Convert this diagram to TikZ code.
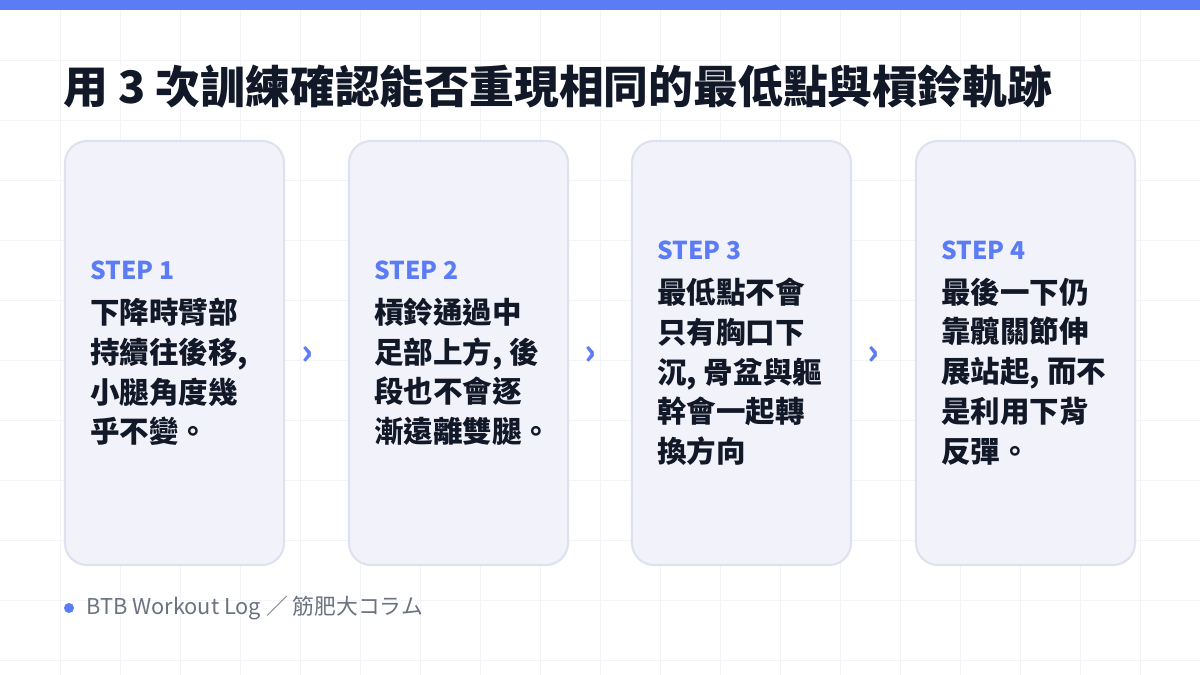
\documentclass[tikz,border=0pt]{standalone}
\usepackage{fontspec}
\setmainfont{Noto Sans CJK TC}
\newfontfamily\cjkbold{Noto Sans CJK TC Black}
\usetikzlibrary{positioning}
\definecolor{accent}{HTML}{5B7CF5}
\definecolor{cardfill}{HTML}{F2F3FA}
\definecolor{cardline}{HTML}{DDE2EE}
\definecolor{gridline}{HTML}{F3F4F7}
\definecolor{inkdark}{HTML}{111827}
\definecolor{inkgray}{HTML}{6B7280}
\tikzset{
  card/.style={draw=cardline,line width=1.2pt,fill=cardfill,rounded corners=0.44cm},
  steplabel/.style={font=\cjkbold\fontsize{14}{16}\selectfont,text=accent,anchor=west,inner sep=0pt},
  stepbody/.style={font=\cjkbold\fontsize{16.8}{22.7}\selectfont,text=inkdark,align=left,anchor=north west,inner sep=0pt},
  chevron/.style={font=\cjkbold\fontsize{20}{22}\selectfont,text=accent,inner sep=0pt}
}
\begin{document}
\begin{tikzpicture}[x=0.02cm,y=-0.02cm]
\useasboundingbox (0,0) rectangle (1200,675);
\fill[white] (0,0) rectangle (1200,675);
% grid
\foreach \gx in {60,120,...,1140} \draw[gridline,line width=0.4pt] (\gx,0) -- (\gx,675);
\foreach \gy in {60,120,...,660} \draw[gridline,line width=0.4pt] (0,\gy) -- (1200,\gy);
\fill[accent] (0,0) rectangle (1200,10);
% title
\node[anchor=west,inner sep=0pt,font=\cjkbold\fontsize{25.5}{28}\selectfont,text=inkdark] (title) at (63,87) {用 3 次訓練確認能否重現相同的最低點與槓鈴軌跡};
% cards
\foreach \cx/\sy/\num/\body in {
  65/270/1/{下降時臂部\\持續往後移,\\小腿角度幾\\乎不變。},
  349/270/2/{槓鈴通過中\\足部上方, 後\\段也不會逐\\漸遠離雙腿。},
  632/250/3/{最低點不會\\只有胸口下\\沉, 骨盆與軀\\幹會一起轉\\換方向},
  916/250/4/{最後一下仍\\靠髖關節伸\\展站起, 而不\\是利用下背\\反彈。}}{
  \draw[card] (\cx,141) rectangle ++(219,424);
  \node[steplabel] (step\num) at (\cx+25,\sy) {STEP \num};
  \node[stepbody,below=10pt of step\num.south west,anchor=north west] (body\num) {\body};
}
% chevrons
\foreach \ax in {307,590,873} \node[chevron] at (\ax,355) {›};
% footer
\fill[accent] (69,608) circle (5);
\node[anchor=west,inner sep=0pt,font=\fontsize{12.4}{14}\selectfont,text=inkgray] (footer) at (86,608) {BTB Workout Log ／ 筋肥大コラム};
\end{tikzpicture}
\end{document}
